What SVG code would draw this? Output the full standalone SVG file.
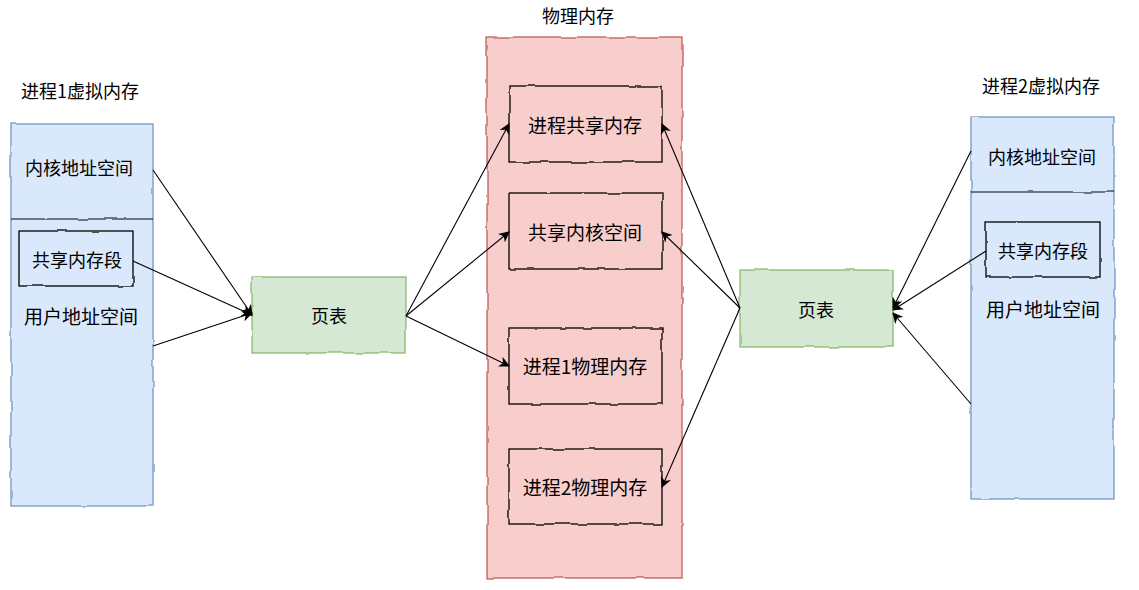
<svg xmlns="http://www.w3.org/2000/svg" width="1139" height="590" viewBox="0 0 1139 590">
<defs>
<filter id="sk" x="-5%" y="-5%" width="110%" height="110%">
<feTurbulence type="fractalNoise" baseFrequency="0.04" numOctaves="2" seed="3" result="n"/>
<feDisplacementMap in="SourceGraphic" in2="n" scale="3" xChannelSelector="R" yChannelSelector="G"/>
</filter>
<marker id="ah" viewBox="0 0 10 10" refX="9" refY="5" markerWidth="11" markerHeight="11" markerUnits="userSpaceOnUse" orient="auto">
<path d="M0,0 L10,5 L0,10 L3,5 z" fill="#000"/>
</marker>
</defs>
<style>
text{font-family:"Noto Sans CJK SC","Liberation Sans",sans-serif;font-size:18px;fill:#000;text-anchor:middle;dominant-baseline:central}
.big{font-size:19px}
.blue{fill:#dae8fc;stroke:#6c8ebf;stroke-width:1.2}
.green{fill:#d5e8d4;stroke:#82b366;stroke-width:1.2}
.red{fill:#f8cecc;stroke:#b85450;stroke-width:1.2}
.box{fill:none;stroke:#000;stroke-width:1.3}
.line{fill:none;stroke:#000;stroke-width:1.2}
.conn{fill:none;stroke:#000;stroke-width:1.1;marker-end:url(#ah)}
</style>
<rect width="1139" height="590" fill="#fff"/>

<g id="vm1">
<text x="80" y="90">进程1虚拟内存</text>
<g filter="url(#sk)">
<rect class="blue" x="11" y="124" width="142" height="382"/>
<line class="line" x1="11" y1="219" x2="153" y2="219"/>
<rect class="box" x="19" y="231" width="114" height="55"/>
</g>
<text x="79" y="167">内核地址空间</text>
<text x="77" y="259">共享内存段</text>
<text class="big" x="81" y="315">用户地址空间</text>
</g>

<g id="pt1">
<rect class="green" x="252" y="277" width="154" height="76" filter="url(#sk)"/>
<text x="329" y="315">页表</text>
</g>

<g id="phys">
<text x="578" y="15">物理内存</text>
<rect class="red" x="487" y="37" width="195" height="541" filter="url(#sk)"/>
</g>
<g id="p-share">
<rect class="box" x="509" y="86" width="153" height="76" filter="url(#sk)"/>
<text class="big" x="585" y="124">进程共享内存</text>
</g>
<g id="p-kernel">
<rect class="box" x="509" y="193" width="153" height="76" filter="url(#sk)"/>
<text class="big" x="585" y="231">共享内核空间</text>
</g>
<g id="p-proc1">
<rect class="box" x="509" y="328" width="153" height="76" filter="url(#sk)"/>
<text class="big" x="585" y="365">进程1物理内存</text>
</g>
<g id="p-proc2">
<rect class="box" x="509" y="449" width="153" height="75" filter="url(#sk)"/>
<text class="big" x="585" y="486">进程2物理内存</text>
</g>

<g id="pt2">
<rect class="green" x="740" y="270" width="153" height="77" filter="url(#sk)"/>
<text x="816" y="309">页表</text>
</g>

<g id="vm2">
<text x="1041" y="85">进程2虚拟内存</text>
<g filter="url(#sk)">
<rect class="blue" x="971" y="117" width="143" height="382"/>
<line class="line" x1="971" y1="192" x2="1114" y2="192"/>
<rect class="box" x="986" y="222" width="114" height="55"/>
</g>
<text x="1042" y="156">内核地址空间</text>
<text x="1043" y="250">共享内存段</text>
<text class="big" x="1043" y="308">用户地址空间</text>
</g>

<g id="connectors">
<line class="conn" x1="153" y1="170" x2="252" y2="315"/>
<line class="conn" x1="133" y1="261" x2="252" y2="315"/>
<line class="conn" x1="153" y1="346" x2="252" y2="313"/>
<line class="conn" x1="406" y1="316" x2="509" y2="124"/>
<line class="conn" x1="406" y1="316" x2="509" y2="232"/>
<line class="conn" x1="406" y1="316" x2="509" y2="366"/>
<line class="conn" x1="740" y1="308" x2="662" y2="124"/>
<line class="conn" x1="740" y1="308" x2="662" y2="232"/>
<line class="conn" x1="740" y1="308" x2="662" y2="487"/>
<line class="conn" x1="971" y1="151" x2="893" y2="308"/>
<line class="conn" x1="986" y1="251" x2="893" y2="310"/>
<line class="conn" x1="971" y1="404" x2="893" y2="313"/>
</g>
</svg>
